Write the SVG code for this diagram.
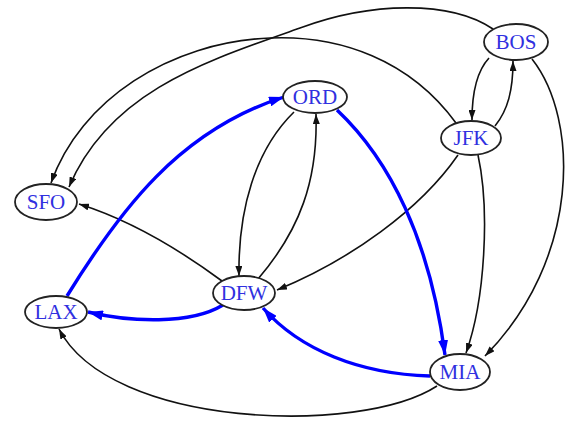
<svg xmlns="http://www.w3.org/2000/svg" width="569" height="421" viewBox="0 0 569 421">
<style>
.node ellipse{fill:#ffffff;stroke:#222222;stroke-width:1.8}
.node text{font-family:"Liberation Serif","Times New Roman",serif;font-size:21px;fill:#3030e0;text-anchor:middle}
.e{fill:none;stroke:#111111;stroke-width:1.6;marker-end:url(#ab)}
.eb{fill:none;stroke:#0000ff;stroke-width:3.4;marker-end:url(#au)}
</style>
<defs>
<marker id="ab" viewBox="0 0 10 7" refX="10" refY="3.5" markerWidth="10" markerHeight="7" markerUnits="userSpaceOnUse" orient="auto"><path d="M0,0 L10,3.5 L0,7 z" fill="#111111"/></marker>
<marker id="au" viewBox="0 0 15 10" refX="15" refY="5" markerWidth="15" markerHeight="10" markerUnits="userSpaceOnUse" orient="auto"><path d="M0,0 L15,5 L0,10 z" fill="#0000ff"/></marker>
</defs>
<rect width="569" height="421" fill="#ffffff"/>
<g id="edges">
<path class="e" d="M489,58 C476,72 472,95 472,120"/>
<path class="e" d="M495,126 C508,110 513,90 513,61"/>
<path class="e" d="M532,59 C580,120 580,260 485,356"/>
<path class="e" d="M478,155 C490,210 485,300 466,353"/>
<path class="e" d="M458,155 C420,210 350,260 277,290"/>
<path class="e" d="M294,112 C255,150 238,210 239,276"/>
<path class="e" d="M258,279 C300,230 318,180 316,114"/>
<path class="e" d="M222,281 C180,250 130,220 79,204"/>
<path class="e" d="M437,386 C360,436 110,428 59,329"/>
<path class="e" d="M456,123 C410,60 340,35 270,38 C170,42 80,100 51,183"/>
<path class="e" d="M493,29 C450,0 370,2 300,28 C210,60 110,90 69,187"/>
<path class="eb" d="M337,110 C390,160 430,240 445,355"/>
<path class="eb" d="M67,296 C120,210 180,130 284,97"/>
<path class="eb" d="M223,305 C190,325 130,322 88,312"/>
<path class="eb" d="M430,376 C360,374 300,350 263,308"/>
</g>
<g id="BOS" class="node"><ellipse cx="516" cy="42" rx="32" ry="18"/><text x="516" y="49">BOS</text></g>
<g id="JFK" class="node"><ellipse cx="471" cy="138" rx="30" ry="17"/><text x="471" y="145">JFK</text></g>
<g id="ORD" class="node"><ellipse cx="315" cy="97" rx="32" ry="16"/><text x="315" y="104">ORD</text></g>
<g id="SFO" class="node"><ellipse cx="46" cy="202" rx="31" ry="18"/><text x="46" y="209">SFO</text></g>
<g id="LAX" class="node"><ellipse cx="56" cy="312" rx="31" ry="16"/><text x="56" y="319">LAX</text></g>
<g id="DFW" class="node"><ellipse cx="244" cy="293" rx="31" ry="17"/><text x="244" y="300">DFW</text></g>
<g id="MIA" class="node"><ellipse cx="460" cy="372" rx="30" ry="18"/><text x="460" y="379">MIA</text></g>
</svg>
